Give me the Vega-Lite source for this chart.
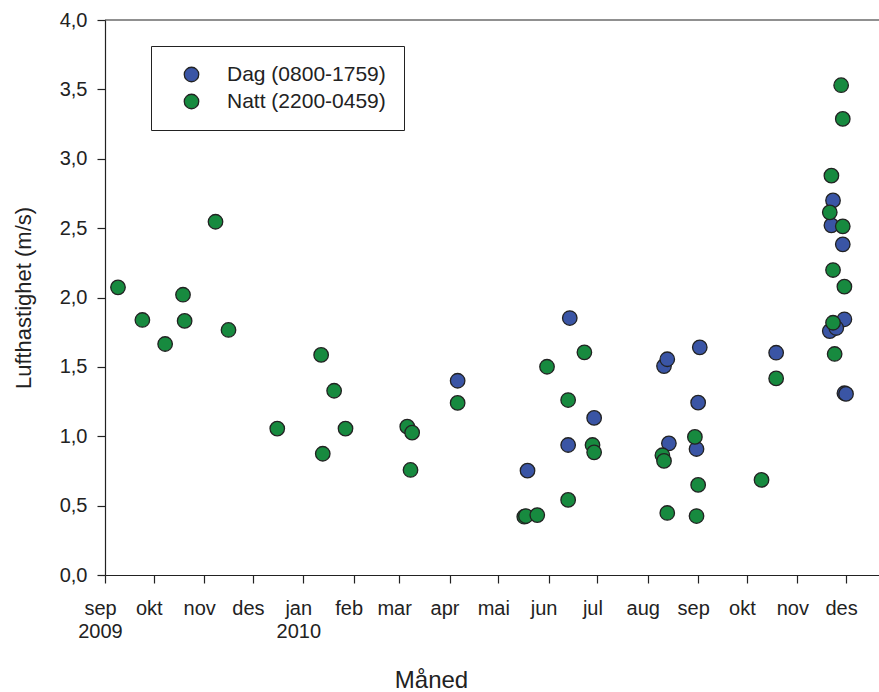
{
  "$schema": "https://vega.github.io/schema/vega-lite/v6.json",
  "width": 774,
  "height": 555,
  "autosize": {"type": "none"},
  "padding": {"left": 105, "top": 20, "right": 0, "bottom": 117},
  "background": "white",
  "config": {"font": "Liberation Sans", "view": {"stroke": null}},
  "data": {"values": [
    {"date": "2010-04-06", "value": 1.40, "series": "Dag (0800-1759)"},
    {"date": "2010-05-19", "value": 0.752, "series": "Dag (0800-1759)"},
    {"date": "2010-06-14", "value": 1.852, "series": "Dag (0800-1759)"},
    {"date": "2010-06-13", "value": 0.937, "series": "Dag (0800-1759)"},
    {"date": "2010-06-29", "value": 1.132, "series": "Dag (0800-1759)"},
    {"date": "2010-08-11", "value": 1.506, "series": "Dag (0800-1759)"},
    {"date": "2010-08-13", "value": 1.555, "series": "Dag (0800-1759)"},
    {"date": "2010-08-14", "value": 0.949, "series": "Dag (0800-1759)"},
    {"date": "2010-09-02", "value": 1.641, "series": "Dag (0800-1759)"},
    {"date": "2010-09-01", "value": 1.242, "series": "Dag (0800-1759)"},
    {"date": "2010-08-31", "value": 0.908, "series": "Dag (0800-1759)"},
    {"date": "2010-10-19", "value": 1.602, "series": "Dag (0800-1759)"},
    {"date": "2010-11-23", "value": 2.70, "series": "Dag (0800-1759)"},
    {"date": "2010-11-22", "value": 2.52, "series": "Dag (0800-1759)"},
    {"date": "2010-11-29", "value": 2.383, "series": "Dag (0800-1759)"},
    {"date": "2010-11-30", "value": 1.843, "series": "Dag (0800-1759)"},
    {"date": "2010-11-21", "value": 1.758, "series": "Dag (0800-1759)"},
    {"date": "2010-11-25", "value": 1.78, "series": "Dag (0800-1759)"},
    {"date": "2010-11-30", "value": 1.31, "series": "Dag (0800-1759)"},
    {"date": "2010-12-01", "value": 1.305, "series": "Dag (0800-1759)"},
    {"date": "2009-09-09", "value": 2.073, "series": "Natt (2200-0459)"},
    {"date": "2009-09-24", "value": 1.838, "series": "Natt (2200-0459)"},
    {"date": "2009-10-08", "value": 1.665, "series": "Natt (2200-0459)"},
    {"date": "2009-10-19", "value": 2.02, "series": "Natt (2200-0459)"},
    {"date": "2009-10-20", "value": 1.831, "series": "Natt (2200-0459)"},
    {"date": "2009-11-08", "value": 2.546, "series": "Natt (2200-0459)"},
    {"date": "2009-11-16", "value": 1.766, "series": "Natt (2200-0459)"},
    {"date": "2009-12-16", "value": 1.055, "series": "Natt (2200-0459)"},
    {"date": "2010-01-12", "value": 1.586, "series": "Natt (2200-0459)"},
    {"date": "2010-01-13", "value": 0.874, "series": "Natt (2200-0459)"},
    {"date": "2010-01-20", "value": 1.328, "series": "Natt (2200-0459)"},
    {"date": "2010-01-27", "value": 1.055, "series": "Natt (2200-0459)"},
    {"date": "2010-03-06", "value": 1.069, "series": "Natt (2200-0459)"},
    {"date": "2010-03-09", "value": 1.026, "series": "Natt (2200-0459)"},
    {"date": "2010-03-08", "value": 0.757, "series": "Natt (2200-0459)"},
    {"date": "2010-04-06", "value": 1.24, "series": "Natt (2200-0459)"},
    {"date": "2010-05-17", "value": 0.42, "series": "Natt (2200-0459)"},
    {"date": "2010-05-18", "value": 0.425, "series": "Natt (2200-0459)"},
    {"date": "2010-05-25", "value": 0.432, "series": "Natt (2200-0459)"},
    {"date": "2010-05-31", "value": 1.501, "series": "Natt (2200-0459)"},
    {"date": "2010-06-13", "value": 1.261, "series": "Natt (2200-0459)"},
    {"date": "2010-06-13", "value": 0.541, "series": "Natt (2200-0459)"},
    {"date": "2010-06-23", "value": 1.605, "series": "Natt (2200-0459)"},
    {"date": "2010-06-28", "value": 0.937, "series": "Natt (2200-0459)"},
    {"date": "2010-06-29", "value": 0.884, "series": "Natt (2200-0459)"},
    {"date": "2010-08-10", "value": 0.863, "series": "Natt (2200-0459)"},
    {"date": "2010-08-11", "value": 0.822, "series": "Natt (2200-0459)"},
    {"date": "2010-08-13", "value": 0.447, "series": "Natt (2200-0459)"},
    {"date": "2010-08-30", "value": 0.995, "series": "Natt (2200-0459)"},
    {"date": "2010-09-01", "value": 0.649, "series": "Natt (2200-0459)"},
    {"date": "2010-08-31", "value": 0.425, "series": "Natt (2200-0459)"},
    {"date": "2010-10-10", "value": 0.685, "series": "Natt (2200-0459)"},
    {"date": "2010-10-19", "value": 1.417, "series": "Natt (2200-0459)"},
    {"date": "2010-11-22", "value": 2.878, "series": "Natt (2200-0459)"},
    {"date": "2010-11-21", "value": 2.614, "series": "Natt (2200-0459)"},
    {"date": "2010-11-29", "value": 2.513, "series": "Natt (2200-0459)"},
    {"date": "2010-11-23", "value": 2.198, "series": "Natt (2200-0459)"},
    {"date": "2010-11-30", "value": 2.078, "series": "Natt (2200-0459)"},
    {"date": "2010-11-23", "value": 1.818, "series": "Natt (2200-0459)"},
    {"date": "2010-11-24", "value": 1.593, "series": "Natt (2200-0459)"},
    {"date": "2010-11-28", "value": 3.53, "series": "Natt (2200-0459)"},
    {"date": "2010-11-29", "value": 3.287, "series": "Natt (2200-0459)"}
  ]},
  "layer": [
    {
      "data": {"values": [{}]},
      "mark": {"type": "rule", "color": "#222222", "strokeWidth": 1.2},
      "encoding": {"y": {"datum": 4, "type": "quantitative"}}
    },
    {
      "mark": {"type": "point", "shape": "circle", "filled": true, "opacity": 1, "size": 210, "stroke": "#222222", "strokeWidth": 1.3},
      "encoding": {
        "x": {
          "field": "date", "type": "temporal",
          "scale": {"type": "utc", "domain": [{"year": 2009, "month": 9, "date": 1, "utc": true}, {"year": 2010, "month": 12, "date": 21, "hours": 7, "utc": true}]},
          "axis": {
            "values": [
              {"year": 2009, "month": 9, "date": 1, "utc": true},
              {"year": 2009, "month": 10, "date": 1, "utc": true},
              {"year": 2009, "month": 11, "date": 1, "utc": true},
              {"year": 2009, "month": 12, "date": 1, "utc": true},
              {"year": 2010, "month": 1, "date": 1, "utc": true},
              {"year": 2010, "month": 2, "date": 1, "utc": true},
              {"year": 2010, "month": 3, "date": 1, "utc": true},
              {"year": 2010, "month": 4, "date": 1, "utc": true},
              {"year": 2010, "month": 5, "date": 1, "utc": true},
              {"year": 2010, "month": 6, "date": 1, "utc": true},
              {"year": 2010, "month": 7, "date": 1, "utc": true},
              {"year": 2010, "month": 8, "date": 1, "utc": true},
              {"year": 2010, "month": 9, "date": 1, "utc": true},
              {"year": 2010, "month": 10, "date": 1, "utc": true},
              {"year": 2010, "month": 11, "date": 1, "utc": true},
              {"year": 2010, "month": 12, "date": 1, "utc": true}
            ],
            "labelExpr": "utcmonth(datum.value) == 8 && utcyear(datum.value) == 2009 ? ['sep', '2009'] : utcmonth(datum.value) == 0 ? ['jan', '2010'] : ['jan','feb','mar','apr','mai','jun','jul','aug','sep','okt','nov','des'][utcmonth(datum.value)]",
            "title": "Måned",
            "titleFontSize": 24, "titleFontWeight": "normal", "titleColor": "#222222",
            "titleX": 326, "titleY": 112, "titleAlign": "center", "titleBaseline": "alphabetic",
            "labelFontSize": 20, "labelColor": "#222222", "labelPadding": 15, "labelLineHeight": 23,
            "labelOffset": -5, "labelOverlap": false, "labelFlush": false, "labelBound": false,
            "labelAngle": 0, "labelAlign": "center", "labelBaseline": "top",
            "tickSize": 8, "tickColor": "#222222", "tickWidth": 1.2,
            "domainColor": "#222222", "domainWidth": 1.2, "grid": false
          }
        },
        "y": {
          "field": "value", "type": "quantitative",
          "scale": {"domain": [0, 4], "nice": false},
          "axis": {
            "values": [0, 0.5, 1, 1.5, 2, 2.5, 3, 3.5, 4],
            "labelExpr": "replace(format(datum.value, '.1f'), '.', ',')",
            "title": "Lufthastighet (m/s)",
            "titleFontSize": 22, "titleFontWeight": "normal", "titleColor": "#222222",
            "titleX": -82, "titleY": 277.5, "titleAlign": "center", "titleBaseline": "middle", "titleAngle": 270,
            "labelFontSize": 20, "labelColor": "#222222", "labelPadding": 10,
            "labelOverlap": false, "labelFlush": false, "labelBound": false,
            "tickSize": 8, "tickColor": "#222222", "tickWidth": 1.2,
            "domainColor": "#222222", "domainWidth": 1.2, "grid": false
          }
        },
        "color": {
          "field": "series", "type": "nominal",
          "scale": {"domain": ["Dag (0800-1759)", "Natt (2200-0459)"], "range": ["#3A55A5", "#178A3F"]},
          "legend": {
            "title": null, "orient": "none", "legendX": 46, "legendY": 26,
            "padding": 18, "strokeColor": "#222222", "fillColor": "white",
            "labelFontSize": 21, "labelColor": "#222222", "labelOffset": 25, "labelLimit": 400,
            "symbolOffset": 12, "symbolSize": 210, "symbolType": "circle",
            "symbolStrokeColor": "#222222", "symbolStrokeWidth": 1.3, "symbolOpacity": 1,
            "rowPadding": 5
          }
        }
      }
    }
  ]
}
